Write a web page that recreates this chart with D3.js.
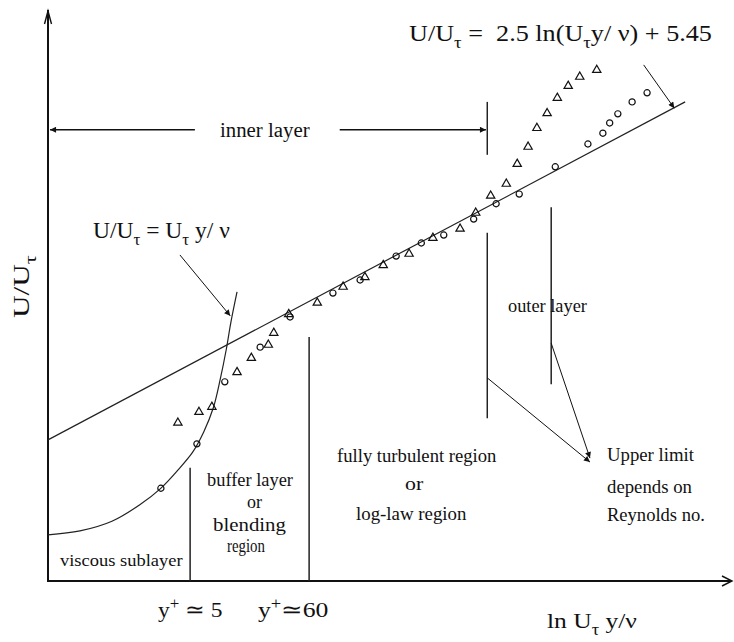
<!DOCTYPE html>
<html><head><meta charset="utf-8">
<script src="https://cdn.jsdelivr.net/npm/d3@7/dist/d3.min.js"></script>
<style>html,body{margin:0;padding:0;background:#fff;} svg{display:block;} text{white-space:pre;}</style>
</head><body><svg id="chart" width="734" height="642"></svg>
<script>
// ---------- data (schematic units: x 0..100 along the ln(Uτ y/ν) axis, y 0..100 along the U/Uτ axis) ----------
const circleX = [16.6, 21.9, 26.0, 31.2, 35.6, 41.9, 45.9, 51.2, 54.9, 58.2, 62.6, 65.9, 69.3, 74.6, 79.4, 81.6, 82.6, 83.8, 85.9, 88.1];
const circleY = [16.3, 24.1, 35.0, 41.1, 46.4, 50.6, 52.9, 57.1, 59.4, 60.8, 63.6, 66.3, 68.0, 72.8, 76.8, 78.7, 80.5, 82.1, 84.2, 85.8];
const triangleX = [19.1, 22.2, 24.1, 27.8, 29.9, 32.4, 33.2, 35.4, 39.6, 43.4, 46.6, 49.3, 53.1, 56.6, 60.6, 62.9, 65.1, 67.4, 69.0, 70.6, 71.9, 73.4, 74.9, 76.5, 78.2, 80.7];
const triangleY = [27.8, 29.7, 30.6, 36.7, 39.2, 41.5, 43.6, 46.9, 48.9, 51.7, 53.4, 55.5, 57.5, 60.3, 61.9, 64.7, 67.7, 69.8, 73.3, 76.3, 79.6, 82.2, 84.9, 87.0, 88.6, 89.8];
const viscousX = [0, 4.7, 9.4, 13.5, 16.5, 19.1, 21.3, 22.9, 24.3, 25.3, 26.2, 26.9, 27.8];
const viscousY = [8.1, 8.8, 10.5, 13.4, 16.2, 19.5, 22.7, 26.2, 30.4, 35.3, 40.6, 45.5, 50.8];
const logLawX = [0, 93.7];
const logLawY = [24.8, 84.2];
const boundaryNames = ["y+ = 5", "y+ = 60", "inner layer limit", "outer layer start"];
const boundaryX = [20.9, 38.4, 64.6, 74.0];

// ---------- scales ----------
const svg = d3.select("#chart");
const x = d3.scaleLinear().domain([0, 100]).range([48, 728]);
const y = d3.scaleLinear().domain([0, 100]).range([581, 12]);
const FONT = "'Liberation Serif','Times New Roman',serif";

// markers
const defs = svg.append("defs");
defs.append("marker").attr("id", "ah").attr("viewBox", "0 0 10 10").attr("refX", 10).attr("refY", 5)
  .attr("markerWidth", 7).attr("markerHeight", 6).attr("markerUnits", "userSpaceOnUse").attr("orient", "auto")
  .append("path").attr("d", "M0,0 L10,5 L0,10 Z").attr("fill", "#111");

// ---------- axes ----------
const [x0, x1] = x.range();
const [yb, yt] = y.range();
svg.append("line").attr("x1", x0).attr("y1", yb + 1).attr("x2", x0).attr("y2", yt - 2)
  .attr("stroke", "#111").attr("stroke-width", 2);
svg.append("path").attr("d", `M${x0 - 3.5},${yt + 12} L${x0},${yt - 1} L${x0 + 3.5},${yt + 12}`)
  .attr("fill", "none").attr("stroke", "#111").attr("stroke-width", 1.4);
svg.append("line").attr("x1", x0 - 1).attr("y1", yb).attr("x2", x1 + 3).attr("y2", yb)
  .attr("stroke", "#111").attr("stroke-width", 2);
svg.append("path").attr("d", `M${x1 - 6},${yb - 5} L${x1 + 4},${yb} L${x1 - 6},${yb + 5}`)
  .attr("fill", "none").attr("stroke", "#111").attr("stroke-width", 1.4);

// ---------- region boundaries ----------
const segs = [
  {b: 0, y0: 0, y1: 19.9},
  {b: 1, y0: 0, y1: 42.9},
  {b: 2, y0: 28.6, y1: 61.2},
  {b: 2, y0: 74.9, y1: 84.2},
  {b: 3, y0: 34.6, y1: 65.7}
];
svg.selectAll("line.bound").data(segs).join("line").attr("class", "bound")
  .attr("x1", d => x(boundaryX[d.b])).attr("x2", d => x(boundaryX[d.b]))
  .attr("y1", d => y(d.y0)).attr("y2", d => y(d.y1))
  .attr("stroke", "#222").attr("stroke-width", 1.5);

// ---------- curves ----------
const lineGen = d3.line().x(d => x(d[0])).y(d => y(d[1])).curve(d3.curveCatmullRom);
svg.append("path").datum(viscousX.map((v, i) => [v, viscousY[i]])).attr("d", lineGen)
  .attr("fill", "none").attr("stroke", "#222").attr("stroke-width", 1.2);
svg.append("path").datum(logLawX.map((v, i) => [v, logLawY[i]])).attr("d", d3.line().x(d => x(d[0])).y(d => y(d[1])))
  .attr("fill", "none").attr("stroke", "#222").attr("stroke-width", 1.2);

// ---------- data points ----------
svg.selectAll("path.circ").data(circleX.map((v, i) => [v, circleY[i]])).join("path").attr("class", "circ")
  .attr("d", d3.symbol().type(d3.symbolCircle).size(30))
  .attr("transform", d => `translate(${x(d[0])},${y(d[1])})`)
  .attr("fill", "none").attr("stroke", "#111").attr("stroke-width", 1.2);
svg.selectAll("path.tri").data(triangleX.map((v, i) => [v, triangleY[i]])).join("path").attr("class", "tri")
  .attr("d", d3.symbol().type(d3.symbolTriangle).size(30))
  .attr("transform", d => `translate(${x(d[0])},${y(d[1])})`)
  .attr("fill", "none").attr("stroke", "#111").attr("stroke-width", 1.2);

// ---------- annotation arrows ----------
function arrow(xa, ya, xb, yb2, w) {
  svg.append("line").attr("x1", x(xa)).attr("y1", y(ya)).attr("x2", x(xb)).attr("y2", y(yb2))
    .attr("stroke", "#111").attr("stroke-width", w || 1).attr("marker-end", "url(#ah)");
}
arrow(21.6, 79.3, 0.3, 79.3, 1.6);     // inner layer <-
arrow(42.9, 79.3, 64.4, 79.3, 1.6);    // inner layer ->
arrow(19.4, 57.3, 26.8, 46.6, 1);      // viscous formula
arrow(87.6, 90.7, 92.1, 83.1, 1);      // log-law formula
arrow(64.6, 35.7, 79.7, 20.9, 1);      // upper limit
arrow(74.0, 41.8, 79.7, 21.6, 1);

// ---------- text ----------
function label(parts, o) {
  const t = svg.append("text").attr("font-family", FONT).attr("font-size", o.size).attr("fill", "#111");
  let shift = 0;
  parts.forEach(p => {
    const s = Array.isArray(p) ? p[0] : p;
    const mode = Array.isArray(p) ? p[1] : null;
    const target = mode === "sub" ? o.size * 0.3 : mode === "sup" ? -o.size * 0.38 : 0;
    const ts = t.append("tspan").attr("dy", target - shift).text(s);
    if (mode) ts.attr("font-size", o.size * 0.72);
    shift = target;
  });
  const bb = t.node().getBBox();
  const sx = Math.abs(o.x1 - o.x0) / bb.width;
  if (o.rot) {
    t.attr("transform", `translate(${o.bx},${o.x0}) rotate(-90) scale(${sx},1) translate(${-bb.x},0)`);
  } else {
    t.attr("transform", `translate(${o.x0},${o.base}) scale(${sx},1) translate(${-bb.x},0)`);
  }
}
label(["U/U", ["τ", "sub"]], {x0: 318, x1: 255, bx: 29, size: 24, rot: true});
label(["U/U", ["τ", "sub"], " = U", ["τ", "sub"], " y/ ν"], {x0: 93, x1: 230, base: 238, size: 24});
label(["U/U", ["τ", "sub"], " =  2.5 ln(U", ["τ", "sub"], "y/ ν) + 5.45"], {x0: 409, x1: 712, base: 41, size: 24});
label(["inner layer"], {x0: 220, x1: 310, base: 137, size: 20});
label(["outer layer"], {x0: 508, x1: 587, base: 312, size: 18});
label(["fully turbulent region"], {x0: 337, x1: 497, base: 462, size: 19});
label(["or"], {x0: 405, x1: 424, base: 490, size: 19});
label(["log-law region"], {x0: 356, x1: 467, base: 520, size: 19});
label(["buffer layer"], {x0: 207, x1: 293, base: 486, size: 18});
label(["or"], {x0: 247, x1: 262, base: 508, size: 18});
label(["blending"], {x0: 213, x1: 286, base: 531, size: 18});
label(["region"], {x0: 227, x1: 265, base: 552, size: 18});
label(["viscous sublayer"], {x0: 60, x1: 183, base: 566, size: 17});
label(["Upper limit"], {x0: 607, x1: 694, base: 461, size: 18});
label(["depends on"], {x0: 607, x1: 692, base: 493, size: 18});
label(["Reynolds no."], {x0: 607, x1: 705, base: 521, size: 18});
label(["y", ["+", "sup"], " ≃ 5"], {x0: 158, x1: 222, base: 617, size: 22});
label(["y", ["+", "sup"], "≃60"], {x0: 258, x1: 328, base: 617, size: 22});
label(["ln U", ["τ", "sub"], " y/ν"], {x0: 547, x1: 637, base: 628, size: 22});
</script></body></html>
